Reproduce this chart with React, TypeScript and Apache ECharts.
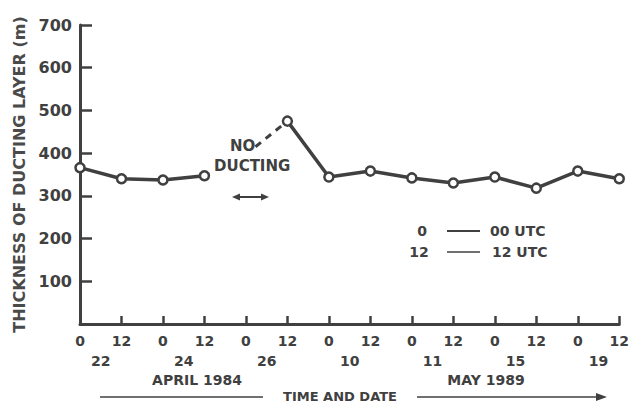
import React, { useEffect, useRef } from "react";
import * as echarts from "echarts";

const hourLabels = ["0", "12", "0", "12", "0", "12", "0", "12", "0", "12", "0", "12", "0", "12"];
const dateLabels = ["22", "24", "26", "10", "11", "15", "19"];
const thickness: (number | null)[] = [366, 340, 337, 347, null, 475, 344, 358, 342, 330, 344, 318, 358, 340];
const noDuctingSegment: [number, number][] = [[4.23, 415], [5, 475]];
const yTicks = { min: 0, max: 700, step: 100 };

const INK = "#404040";
const FONT = "DejaVu Sans";

export default function App() {
  const ref = useRef<HTMLDivElement>(null);
  useEffect(() => {
    if (!ref.current) return;
    const chart = echarts.init(ref.current, null, { renderer: "svg" });
    const near = (a: number, b: number) => Math.abs(a - b) < 1e-6;
    chart.setOption({
      animation: false,
      backgroundColor: "#fff",
      grid: { left: 80, right: 9, top: 25, bottom: 81, containLabel: false },
      xAxis: [
        {
          type: "value",
          min: 0,
          max: hourLabels.length - 1,
          interval: 1,
          splitLine: { show: false },
          axisLine: { lineStyle: { color: INK, width: 3 } },
          axisTick: { inside: true, length: 8, lineStyle: { color: INK, width: 2.5 } },
          axisLabel: {
            margin: 10,
            color: INK,
            fontFamily: FONT,
            fontWeight: "bold",
            fontSize: 14,
            formatter: (v: number) => hourLabels[Math.round(v)] ?? "",
          },
        },
        {
          type: "value",
          position: "bottom",
          offset: 18,
          min: 0,
          max: hourLabels.length - 1,
          interval: 0.5,
          splitLine: { show: false },
          axisLine: { show: false },
          axisTick: { show: false },
          axisLabel: {
            margin: 12,
            color: INK,
            fontFamily: FONT,
            fontWeight: "bold",
            fontSize: 14,
            formatter: (v: number) => {
              const k = (v - 0.5) / 2;
              return near(k, Math.round(k)) ? dateLabels[Math.round(k)] ?? "" : "";
            },
          },
        },
      ],
      yAxis: {
        type: "value",
        min: yTicks.min,
        max: yTicks.max,
        interval: yTicks.step,
        name: "THICKNESS OF DUCTING LAYER (m)",
        nameLocation: "middle",
        nameRotate: 90,
        nameGap: 53,
        nameTextStyle: { color: "#4a4a4a", fontFamily: FONT, fontSize: 16, fontWeight: "bold" },
        splitLine: { show: false },
        axisLine: { show: true, lineStyle: { color: INK, width: 3 } },
        axisTick: { show: true, inside: true, length: 12, lineStyle: { color: INK, width: 2.5 } },
        axisLabel: {
          margin: 8,
          color: INK,
          fontFamily: FONT,
          fontWeight: "bold",
          fontSize: 16,
          formatter: (v: number) => (v === 0 ? "" : String(v)),
        },
      },
      series: [
        {
          type: "line",
          data: thickness.map((v, i) => [i, v == null ? "-" : v]),
          connectNulls: false,
          symbol: "circle",
          symbolSize: 9,
          lineStyle: { color: INK, width: 3.5 },
          itemStyle: { color: "#fff", borderColor: INK, borderWidth: 2.5 },
          z: 3,
        },
        {
          type: "line",
          data: noDuctingSegment,
          showSymbol: false,
          symbol: "none",
          lineStyle: { color: INK, width: 3, type: [7, 6] },
          z: 2,
        },
      ],
      graphic: [
        { type: "text", left: 230, top: 138, style: { text: "NO", fill: INK, font: `bold 15px "${FONT}"` } },
        { type: "text", left: 214, top: 158, style: { text: "DUCTING", fill: INK, font: `bold 15px "${FONT}"` } },
        { type: "line", shape: { x1: 237, y1: 197, x2: 264, y2: 197 }, style: { stroke: INK, lineWidth: 2 } },
        { type: "polygon", shape: { points: [[232, 197], [240, 193.5], [240, 200.5]] }, style: { fill: INK } },
        { type: "polygon", shape: { points: [[269, 197], [261, 193.5], [261, 200.5]] }, style: { fill: INK } },
        { type: "text", x: 422, y: 231, style: { text: "0", fill: INK, font: `bold 14px "${FONT}"`, align: "center", verticalAlign: "middle" } },
        { type: "line", shape: { x1: 447, y1: 231, x2: 480, y2: 231 }, style: { stroke: INK, lineWidth: 2 } },
        { type: "text", x: 490, y: 231, style: { text: "00 UTC", fill: INK, font: `bold 14px "${FONT}"`, align: "left", verticalAlign: "middle" } },
        { type: "text", x: 419, y: 252, style: { text: "12", fill: INK, font: `bold 14px "${FONT}"`, align: "center", verticalAlign: "middle" } },
        { type: "line", shape: { x1: 447, y1: 252, x2: 480, y2: 252 }, style: { stroke: INK, lineWidth: 1.5 } },
        { type: "text", x: 492, y: 252, style: { text: "12 UTC", fill: INK, font: `bold 14px "${FONT}"`, align: "left", verticalAlign: "middle" } },
        { type: "text", x: 197, y: 380, style: { text: "APRIL 1984", fill: INK, font: `bold 14px "${FONT}"`, align: "center", verticalAlign: "middle" } },
        { type: "text", x: 486, y: 380, style: { text: "MAY 1989", fill: INK, font: `bold 14px "${FONT}"`, align: "center", verticalAlign: "middle" } },
        { type: "line", shape: { x1: 100, y1: 397, x2: 263, y2: 397 }, style: { stroke: INK, lineWidth: 1.5 } },
        { type: "text", x: 340, y: 396, style: { text: "TIME AND DATE", fill: INK, font: `bold 13px "${FONT}"`, align: "center", verticalAlign: "middle" } },
        { type: "line", shape: { x1: 417, y1: 397, x2: 598, y2: 397 }, style: { stroke: INK, lineWidth: 1.5 } },
        { type: "polygon", shape: { points: [[607, 397], [596, 393], [596, 401]] }, style: { fill: INK } },
      ],
    });
    return () => chart.dispose();
  }, []);
  return <div ref={ref} style={{ width: 632, height: 405, position: "absolute", left: 0, top: 0 }} />;
}
